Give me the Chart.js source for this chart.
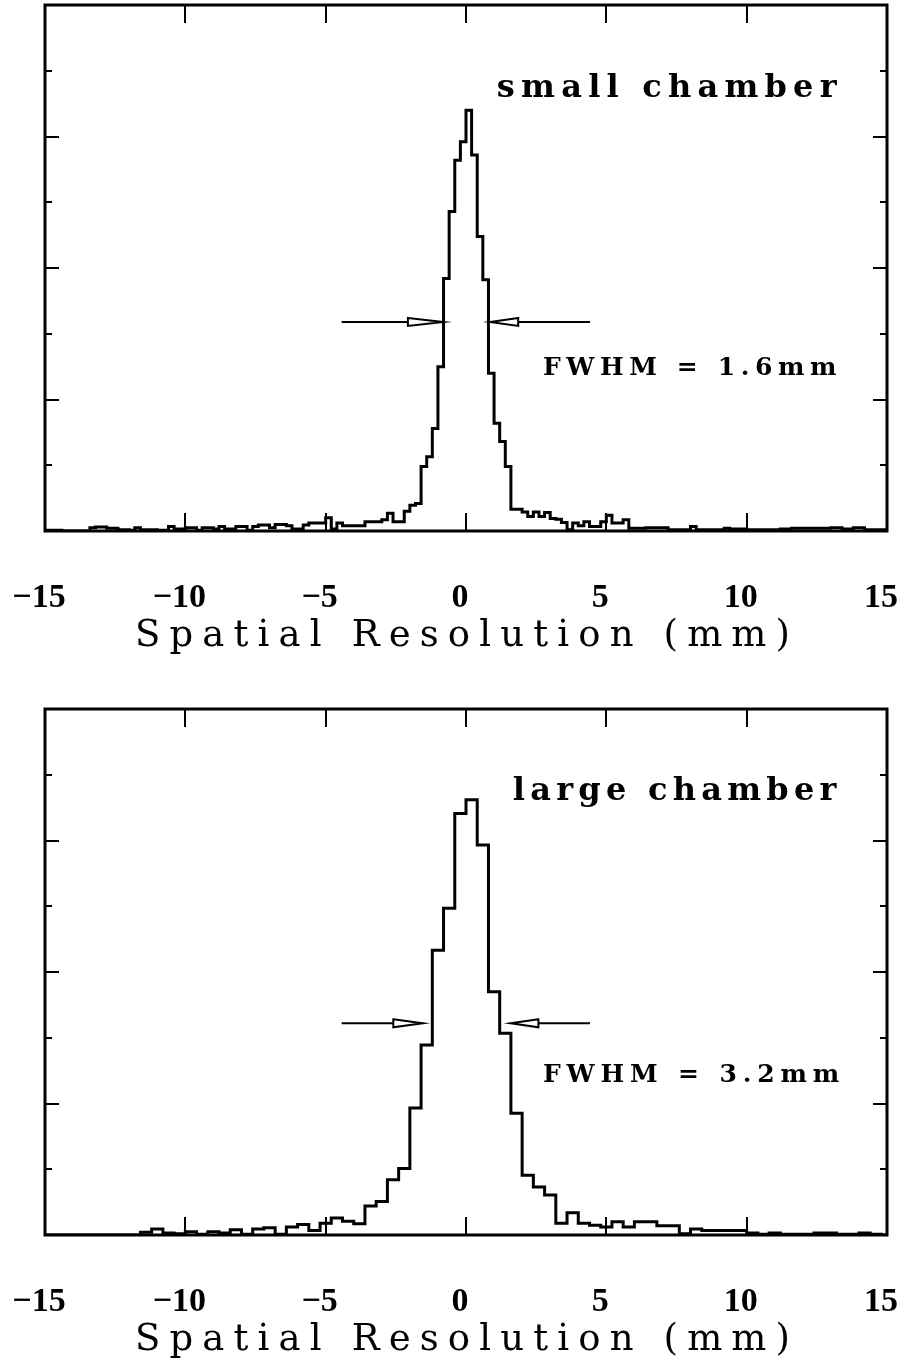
<!DOCTYPE html>
<html>
<head>
<meta charset="utf-8">
<script src="https://cdn.jsdelivr.net/npm/chart.js@4.4.0/dist/chart.umd.min.js"></script>
<style>
  html, body { margin: 0; padding: 0; background: #fff; }
  canvas { display: block; }
</style>
</head>
<body>
<canvas id="topChart" width="906" height="680"></canvas>
<canvas id="bottomChart" width="906" height="683"></canvas>
<script>
// -----------------------------
// Data
// -----------------------------
const xTicks = [-15, -10, -5, 0, 5, 10, 15];
const axisTitle = "Spatial Resolution (mm)";

// small chamber: 0.2 mm bins from -15 mm
const topBinStart = -15;
const topBinWidth = 0.2;
const topCounts = [
  0.01, 0.01, 0.01, 0, 0, 0, 0, 0, 0.05, 0.06,
  0.06, 0.04, 0.04, 0.02, 0.02, 0.01, 0.05, 0.02, 0.02, 0.02,
  0.01, 0.01, 0.07, 0.03, 0.03, 0.05, 0.05, 0.01, 0.05, 0.05,
  0.03, 0.07, 0.03, 0.03, 0.07, 0.07, 0.01, 0.07, 0.09, 0.09,
  0.05, 0.10, 0.10, 0.08, 0.03, 0.03, 0.09, 0.12, 0.12, 0.12,
  0.20, 0.03, 0.12, 0.08, 0.08, 0.08, 0.08, 0.14, 0.14, 0.14,
  0.17, 0.27, 0.14, 0.14, 0.30, 0.39, 0.42, 0.98, 1.13, 1.56,
  2.50, 3.84, 4.86, 5.64, 5.92, 6.40, 5.72, 4.48, 3.82, 2.40,
  1.64, 1.36, 0.98, 0.33, 0.33, 0.29, 0.22, 0.29, 0.22, 0.28,
  0.19, 0.18, 0.13, 0.02, 0.12, 0.08, 0.14, 0.07, 0.07, 0.14,
  0.24, 0.12, 0.12, 0.17, 0.04, 0.04, 0.04, 0.05, 0.05, 0.05,
  0.05, 0.02, 0.02, 0.02, 0.02, 0.07, 0.02, 0.02, 0.02, 0.02,
  0.02, 0.04, 0.03, 0.03, 0.03, 0.02, 0.02, 0.02, 0.02, 0.02,
  0.02, 0.03, 0.03, 0.04, 0.04, 0.04, 0.04, 0.04, 0.04, 0.04,
  0.05, 0.05, 0.03, 0.03, 0.05, 0.05, 0.02, 0.02, 0.02, 0.02
];

// large chamber: 0.4 mm bins from -15.2 mm
const bottomBinStart = -15.2;
const bottomBinWidth = 0.4;
const bottomCounts = [
  0, 0, 0, 0, 0, 0, 0, 0, 0, 0.04,
  0.09, 0.03, 0.02, 0.05, 0.01, 0.05, 0.03, 0.08, 0.01, 0.09,
  0.11, 0.01, 0.12, 0.16, 0.07, 0.18, 0.26, 0.21, 0.17, 0.44,
  0.51, 0.84, 1.01, 1.93, 2.89, 4.33, 4.97, 6.41, 6.62, 5.93,
  3.70, 3.07, 1.85, 0.91, 0.73, 0.61, 0.18, 0.34, 0.18, 0.15,
  0.12, 0.20, 0.12, 0.20, 0.20, 0.14, 0.14, 0.02, 0.09, 0.07,
  0.07, 0.07, 0.07, 0.03, 0.01, 0.03, 0.01, 0.01, 0.01, 0.03,
  0.03, 0.01, 0.01, 0.03, 0.01, 0
];

// annotations (mm / counts units)
const topNotes = {
  label: "small chamber", labelX: [1.10, 13.2], labelY: 6.60,
  fwhm: "FWHM = 1.6mm", fwhmX: [2.74, 13.2], fwhmY: 2.37,
  arrowY: 3.18,
  arrows: [[-4.43, -2.07, -0.81], [4.42, 1.86, 0.855]]
};
const bottomNotes = {
  label: "large chamber", labelX: [1.67, 13.2], labelY: 6.62,
  fwhm: "FWHM = 3.2mm", fwhmX: [2.74, 13.3], fwhmY: 2.33,
  arrowY: 3.22,
  arrows: [[-4.43, -2.59, -1.54], [4.42, 2.58, 1.59]]
};

function stepPoints(start, width, counts) {
  const pts = counts.map((c, i) => ({ x: start + i * width, y: c }));
  pts.push({ x: start + counts.length * width, y: counts[counts.length - 1] });
  return pts;
}

// text stretched to a given width (typewriter look)
function spacedText(ctx, str, x0, x1, y) {
  ctx.letterSpacing = "0px";
  const w0 = ctx.measureText(str).width;
  const ls = (x1 - x0 - w0) / (str.length - 1);
  ctx.letterSpacing = ls.toFixed(2) + "px";
  ctx.textAlign = "left";
  ctx.textBaseline = "alphabetic";
  ctx.fillText(str, x0, y);
  ctx.letterSpacing = "0px";
}

// -----------------------------
// Frame, inner ticks, arrows, texts
// -----------------------------
const decor = {
  id: "decor",
  afterDraw(chart) {
    const notes = chart.canvas.id === "topChart" ? topNotes : bottomNotes;
    const ctx = chart.ctx;
    const a = chart.chartArea;
    const xs = chart.scales.x, ys = chart.scales.y;
    ctx.save();
    ctx.strokeStyle = "#000";
    ctx.fillStyle = "#000";

    ctx.lineWidth = 3;
    ctx.strokeRect(a.left, a.top, a.right - a.left, a.bottom - a.top);

    ctx.lineWidth = 2;
    ctx.beginPath();
    xTicks.slice(1, -1).forEach(v => {
      const px = Math.round(xs.getPixelForValue(v));
      ctx.moveTo(px, a.top); ctx.lineTo(px, a.top + 18);
      ctx.moveTo(px, a.bottom); ctx.lineTo(px, a.bottom - 18);
    });
    ys.ticks.forEach(t => {
      if (t.value <= 0 || t.value >= 8) return;
      const py = Math.round(ys.getPixelForValue(t.value));
      const len = t.value % 2 === 0 ? 14 : 7;
      ctx.moveTo(a.left, py); ctx.lineTo(a.left + len, py);
      ctx.moveTo(a.right, py); ctx.lineTo(a.right - len, py);
    });
    ctx.stroke();

    // FWHM arrows
    const ay = ys.getPixelForValue(notes.arrowY);
    notes.arrows.forEach(([tail, base, tip]) => {
      const pt = xs.getPixelForValue(tail), pb = xs.getPixelForValue(base), pp = xs.getPixelForValue(tip);
      ctx.lineWidth = 2;
      ctx.beginPath();
      ctx.moveTo(pt, ay); ctx.lineTo(pb, ay);
      ctx.stroke();
      ctx.beginPath();
      ctx.moveTo(pb, ay - 4); ctx.lineTo(pp, ay); ctx.lineTo(pb, ay + 4);
      ctx.closePath();
      ctx.fillStyle = "#fff";
      ctx.fill();
      ctx.stroke();
    });

    ctx.fillStyle = "#000";
    ctx.font = "bold 32px 'DejaVu Serif'";
    spacedText(ctx, notes.label, xs.getPixelForValue(notes.labelX[0]), xs.getPixelForValue(notes.labelX[1]), ys.getPixelForValue(notes.labelY));
    ctx.font = "bold 25px 'DejaVu Serif'";
    spacedText(ctx, notes.fwhm, xs.getPixelForValue(notes.fwhmX[0]), xs.getPixelForValue(notes.fwhmX[1]), ys.getPixelForValue(notes.fwhmY));

    ctx.font = "37px 'DejaVu Serif'";
    spacedText(ctx, axisTitle, 135, 790, a.bottom + 115);
    ctx.restore();
  }
};

function makeChart(id, start, width, counts, padTop, padBottom) {
  return new Chart(document.getElementById(id), {
    type: "line",
    data: {
      datasets: [{
        data: stepPoints(start, width, counts),
        stepped: "before",
        borderColor: "#000",
        borderWidth: 3,
        pointRadius: 0,
        fill: false,
        tension: 0
      }]
    },
    options: {
      responsive: false,
      animation: false,
      events: [],
      layout: { padding: { left: 45, right: 19, top: padTop, bottom: padBottom } },
      plugins: { legend: { display: false }, tooltip: { enabled: false } },
      scales: {
        x: {
          type: "linear",
          min: -15,
          max: 15,
          afterBuildTicks: scale => { scale.ticks = xTicks.map(v => ({ value: v })); },
          afterFit: scale => {
            scale.height = 87;
            scale.paddingLeft = 0;
            scale.paddingRight = 0;
          },
          grid: { display: false },
          border: { display: false },
          ticks: {
            padding: 39,
            labelOffset: -6,
            autoSkip: false,
            maxRotation: 0,
            color: "#000",
            font: { family: "'Liberation Serif'", size: 34, weight: "bold" },
            callback: v => (v < 0 ? "\u2212" + Math.abs(v) : String(v))
          }
        },
        y: {
          display: false,
          min: 0,
          max: 8,
          ticks: { stepSize: 1 }
        }
      }
    },
    plugins: [decor]
  });
}

makeChart("topChart", topBinStart, topBinWidth, topCounts, 5, 62);
makeChart("bottomChart", bottomBinStart, bottomBinWidth, bottomCounts, 29, 41);
</script>
</body>
</html>
